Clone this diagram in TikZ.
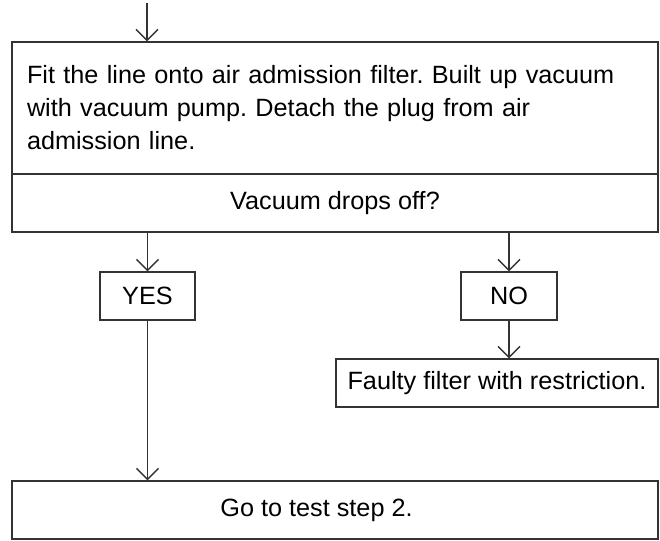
\documentclass[tikz,border=0pt]{standalone}
\usepackage{fontspec}
\setmainfont{Liberation Sans}[FakeStretch=1.01]
\usetikzlibrary{arrows.meta}
\begin{document}
\frenchspacing
\begin{tikzpicture}[x=1pt,y=-1pt,
  box/.style={draw=black!80, line width=1.4pt, inner sep=0pt, font=\fontsize{25}{33}\selectfont},
  arr/.style={draw=black!80, line width=1.3pt, -{Straight Barb[length=11pt,width=22pt,line width=1.3pt]}}]
\useasboundingbox (0,0) rectangle (660,540);
\node[box, minimum width=646pt, minimum height=132pt, text width=616pt, inner xsep=15pt, align=left] (main) at (335,108)
  {Fit the line onto air admission filter. Built up vacuum\\ with vacuum pump. Detach the plug from air\\ admission line.};
\node[box, minimum width=646pt, minimum height=58pt] (q) at (335,203) {Vacuum drops off?};
\node[box, minimum width=95pt, minimum height=48pt] (yes) at (147.5,296) {YES};
\node[box, minimum width=96pt, minimum height=48pt] (no) at (509,296) {NO};
\node[box, minimum width=322pt, minimum height=48pt] (faulty) at (497,383) {Faulty filter with restriction.};
\node[box, minimum width=646pt, minimum height=58pt] (go) at (335,510) {Go to test step 2.\hspace*{37pt}};
\coordinate (start) at (147,3);
\draw[arr] (start) -- (start |- main.north);
\draw[arr] (yes.north |- q.south) -- (yes.north);
\draw[arr] (no.north |- q.south) -- (no.north);
\draw[arr] (no.south) -- (no.south |- faulty.north);
\draw[arr] (yes.south) -- (yes.south |- go.north);
\end{tikzpicture}
\end{document}
